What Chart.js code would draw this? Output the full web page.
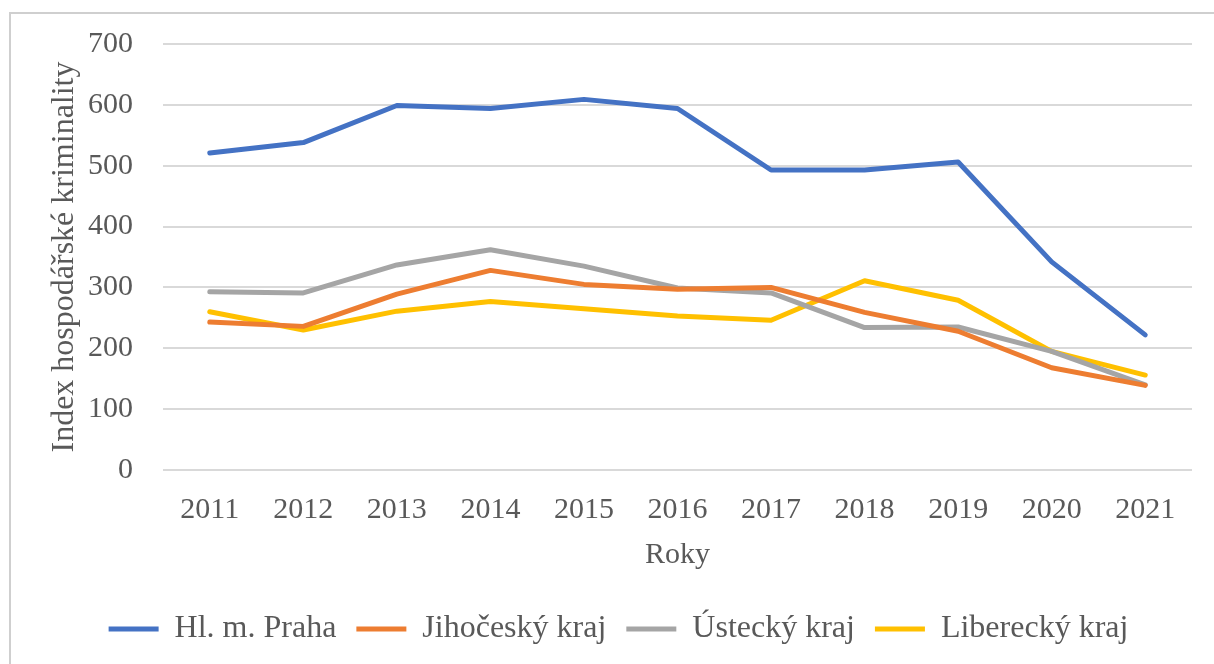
<!DOCTYPE html>
<html>
<head>
<meta charset="utf-8">
<script src="https://cdn.jsdelivr.net/npm/chart.js@4"></script>
<style>
  body { margin: 0; background: #fff; }
  #frame { position: absolute; left: 9px; top: 12px; right: 0; bottom: 0;
           border-top: 2px solid #cfcfcf; border-left: 2px solid #cfcfcf; }
  #IndexChart { position: absolute; left: 0; top: 0; }
</style>
</head>
<body>
<div id="frame"></div>
<canvas id="IndexChart" width="1214" height="664"></canvas>
<script>
var years = ["2011", "2012", "2013", "2014", "2015", "2016", "2017", "2018", "2019", "2020", "2021"];
var praha = [521, 538, 599, 594, 609, 594, 493, 493, 506, 342, 222];
var jihocesky = [243, 236, 289, 328, 305, 297, 300, 259, 228, 168, 139];
var ustecky = [293, 291, 337, 362, 335, 299, 291, 234, 235, 195, 140];
var liberecky = [260, 230, 261, 277, 265, 253, 246, 311, 279, 195, 156];
var yTicks = [0, 100, 200, 300, 400, 500, 600, 700];

var textColor = "#595959";
var serif = "'Liberation Serif', 'Times New Roman', serif";

function series(label, color, data) {
  return {
    label: label,
    data: data,
    borderColor: color,
    backgroundColor: color,
    borderWidth: 5,
    borderCapStyle: "round",
    borderJoinStyle: "round",
    pointRadius: 0,
    pointHoverRadius: 0,
    tension: 0,
  };
}

var ctx = document.getElementById("IndexChart").getContext("2d");
var chart = new Chart(ctx, {
  type: "line",
  data: {
    labels: years,
    datasets: [
      series("Hl. m. Praha", "#4472C4", praha),
      series("Jihočeský kraj", "#ED7D31", jihocesky),
      series("Ústecký kraj", "#A5A5A5", ustecky),
      series("Liberecký kraj", "#FFC000", liberecky),
    ],
  },
  options: {
    responsive: false,
    animation: false,
    layout: {
      padding: { left: 45, right: 22, top: 44, bottom: 9 },
    },
    plugins: {
      tooltip: { enabled: false },
      legend: {
        position: "bottom",
        labels: {
          usePointStyle: true,
          pointStyle: "line",
          pointStyleWidth: 50,
          padding: 20,
          color: textColor,
          font: { family: serif, size: 32 },
        },
      },
    },
    scales: {
      x: {
        offset: true,
        grid: { display: false },
        border: { display: false },
        ticks: {
          color: textColor,
          padding: 14,
          maxRotation: 0,
          font: { family: serif, size: 30 },
        },
        title: {
          display: true,
          text: "Roky",
          color: textColor,
          padding: { top: 0, bottom: 20 },
          font: { family: serif, size: 30 },
        },
        afterFit: function (s) { s.height = 123; },
      },
      y: {
        min: 0,
        max: 700,
        afterBuildTicks: function (s) {
          s.ticks = yTicks.map(function (v) { return { value: v }; });
        },
        grid: { color: "#d9d9d9", lineWidth: 2, drawTicks: false },
        border: { display: false },
        ticks: {
          color: textColor,
          padding: 30,
          font: { family: serif, size: 30 },
        },
        title: {
          display: true,
          text: "Index hospodářské kriminality",
          color: textColor,
          padding: 0,
          font: { family: serif, size: 32 },
        },
        afterFit: function (s) {
          s.width = 118;
          // the tick padding should only push labels sideways
          s.paddingTop = 0;
          s.paddingBottom = 0;
        },
      },
    },
  },
});
</script>
</body>
</html>
